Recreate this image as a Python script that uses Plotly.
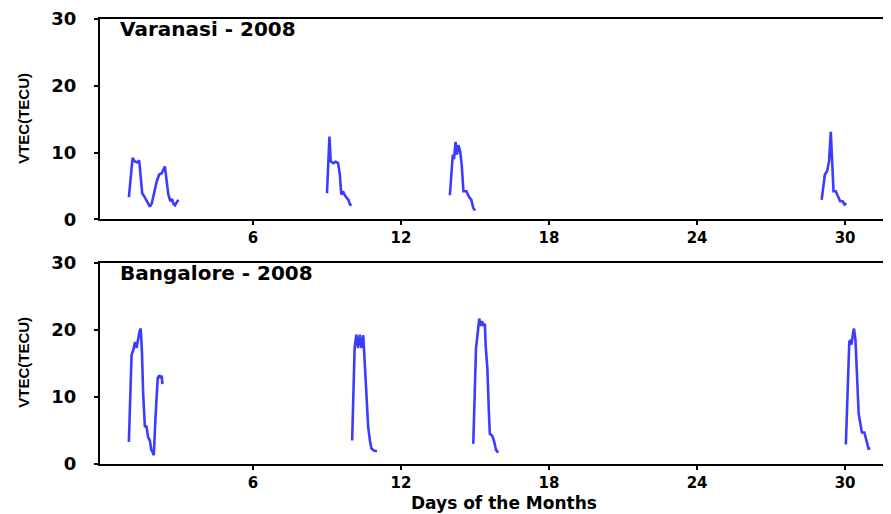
import plotly.graph_objects as go

# ---- data (None separates the daily records) ----
varanasi_day = [0.97, 1.05, 1.12, 1.2, 1.3, 1.39, 1.45, 1.51, 1.6, 1.7, 1.82, 1.9, 2.0, 2.1, 2.2, 2.3, 2.43, 2.5, 2.57, 2.65, 2.72, 2.78, 2.84, 2.92, 2.98,
                None,
                9.0, 9.1, 9.15, 9.25, 9.35, 9.45, 9.52, 9.58, 9.65, 9.72, 9.8, 9.87, 9.93, 10.0,
                None,
                13.98, 14.1, 14.15, 14.21, 14.27, 14.33, 14.4, 14.46, 14.53, 14.65, 14.75, 14.85, 14.93, 15.0,
                None,
                29.05, 29.18, 29.27, 29.35, 29.42, 29.47, 29.53, 29.62, 29.72, 29.8, 29.9, 29.98, 30.05]
varanasi_vtec = [3.3, 7.0, 9.2, 8.7, 8.5, 8.8, 6.5, 3.9, 3.4, 2.8, 1.9, 2.4, 4.0, 5.7, 6.7, 6.9, 7.9, 6.0, 3.7, 2.7, 3.0, 2.3, 2.1, 2.6, 2.9,
                 None,
                 3.9, 12.4, 8.7, 8.4, 8.6, 8.4, 6.7, 3.7, 4.2, 3.6, 3.2, 2.9, 2.2, 2.1,
                 None,
                 3.6, 9.7, 9.0, 11.6, 9.7, 11.1, 10.1, 8.2, 4.2, 4.2, 3.4, 2.9, 1.7, 1.3,
                 None,
                 2.9, 6.7, 7.2, 8.7, 13.1, 8.7, 4.2, 4.2, 3.4, 2.7, 2.7, 2.2, 2.4]

bangalore_day = [0.97, 1.08, 1.15, 1.22, 1.28, 1.33, 1.4, 1.45, 1.5, 1.55, 1.62, 1.68, 1.75, 1.82, 1.88, 1.93, 1.98, 2.05, 2.14, 2.2, 2.26, 2.3, 2.33,
                 None,
                 10.02, 10.12, 10.19, 10.26, 10.33, 10.4, 10.47, 10.54, 10.6, 10.67, 10.74, 10.8, 10.9, 11.03,
                 None,
                 14.93, 15.04, 15.1, 15.17, 15.23, 15.28, 15.34, 15.4, 15.43, 15.5, 15.56, 15.6, 15.7, 15.78, 15.85, 15.94,
                 None,
                 30.03, 30.11, 30.17, 30.22, 30.26, 30.32, 30.36, 30.42, 30.48, 30.55, 30.62, 30.68, 30.78, 30.85, 30.95, 31.02]
bangalore_vtec = [3.3, 16.3, 17.0, 18.2, 17.3, 18.5, 19.7, 20.2, 16.8, 10.4, 5.5, 5.7, 4.0, 3.5, 2.1, 1.8, 1.3, 7.0, 12.8, 13.2, 12.8, 13.2, 11.9,
                  None,
                  3.5, 17.3, 19.3, 17.3, 19.3, 17.3, 19.2, 14.8, 9.9, 5.5, 3.5, 2.3, 2.0, 1.9,
                  None,
                  3.0, 17.3, 19.2, 21.7, 20.6, 21.3, 20.6, 20.9, 17.7, 14.3, 7.9, 4.5, 4.2, 3.3, 2.1, 1.7,
                  None,
                  2.9, 12.4, 18.2, 18.5, 17.8, 19.5, 20.2, 18.5, 14.3, 7.5, 6.0, 4.7, 4.7, 3.5, 2.3, 2.3]

x_ticks = [6, 12, 18, 24, 30]
y_ticks = [0, 10, 20, 30]
panel_titles = ["Varanasi - 2008", "Bangalore - 2008"]

WIDE = "DejaVu Sans, Verdana, sans-serif"
NARROW = "Liberation Sans, Arial, sans-serif"
LINE = "#3c3cff"

fig = go.Figure()
fig.add_trace(go.Scatter(x=varanasi_day, y=varanasi_vtec, mode="lines",
                         line=dict(color=LINE, width=2.6), xaxis="x", yaxis="y",
                         connectgaps=False, showlegend=False))
fig.add_trace(go.Scatter(x=bangalore_day, y=bangalore_vtec, mode="lines",
                         line=dict(color=LINE, width=2.6), xaxis="x2", yaxis="y2",
                         connectgaps=False, showlegend=False))

xcommon = dict(range=[-0.2, 31.86], tickvals=x_ticks, showline=True, linecolor="black",
               linewidth=2, mirror=True, ticks="outside", ticklen=4, tickwidth=2,
               tickcolor="black", showgrid=False, zeroline=False, ticklabelstandoff=0,
               ticklabeloverflow="allow",
               tickfont=dict(family=WIDE, size=15, color="black", weight="bold"))
ycommon = dict(range=[0, 30], tickvals=y_ticks, showline=True, linecolor="black",
               linewidth=2, ticks="outside", ticklen=4, tickwidth=1.5,
               tickcolor="black", showgrid=False, zeroline=False, ticklabelstandoff=14,
               ticklabeloverflow="allow",
               tickfont=dict(family=WIDE, size=18, color="black", weight="bold"))

# page body has an 8px margin, so the figure is sized to fit the window
fig.update_layout(
    width=883, height=506,
    margin=dict(l=92, r=0, t=9, b=50),
    paper_bgcolor="white", plot_bgcolor="white",
    xaxis=dict(**xcommon, anchor="y"),
    yaxis=dict(**ycommon, domain=[0.55, 1.0], anchor="x"),
    xaxis2=dict(**xcommon, anchor="y2"),
    yaxis2=dict(**ycommon, domain=[0.0, 0.452], anchor="x2"),
)

annots = [
    dict(text=panel_titles[0], xref="x domain", yref="y domain", x=0.023, y=0.95,
         xanchor="left", yanchor="middle", showarrow=False,
         font=dict(family=WIDE, size=20, color="black", weight="bold")),
    dict(text=panel_titles[1], xref="x2 domain", yref="y2 domain", x=0.023, y=0.95,
         xanchor="left", yanchor="middle", showarrow=False,
         font=dict(family=WIDE, size=20, color="black", weight="bold")),
    dict(text="VTEC(TECU)", xref="paper", yref="paper", x=-0.097, y=(464 - 117) / 447,
         xanchor="center", yanchor="middle", textangle=-90, showarrow=False,
         font=dict(family=NARROW, size=15, color="black", weight="bold")),
    dict(text="VTEC(TECU)", xref="paper", yref="paper", x=-0.097, y=(464 - 362) / 447,
         xanchor="center", yanchor="middle", textangle=-90, showarrow=False,
         font=dict(family=NARROW, size=15, color="black", weight="bold")),
    dict(text="Days of the Months", xref="paper", yref="paper", x=(504 - 100) / 791, y=(464 - 503) / 447,
         xanchor="center", yanchor="middle", showarrow=False,
         font=dict(family=WIDE, size=17, color="black", weight="bold")),
]
fig.update_layout(annotations=annots)

fig.write_html("out.html")
